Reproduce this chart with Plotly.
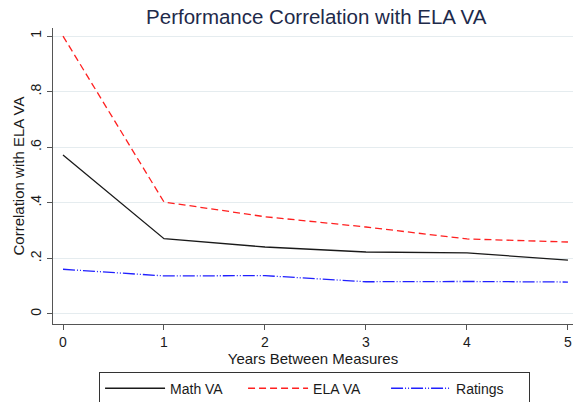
import plotly.graph_objects as go

years = [0, 1, 2, 3, 4, 5]
math_va = [0.572, 0.271, 0.241, 0.223, 0.220, 0.194]
ela_va = [1.0, 0.403, 0.350, 0.313, 0.270, 0.259]
ratings = [0.161, 0.137, 0.138, 0.116, 0.117, 0.115]
y_ticks = [0, 0.2, 0.4, 0.6, 0.8, 1.0]
y_ticktext = ["0", ".2", ".4", ".6", ".8", "1"]

font = "Liberation Sans, Arial, sans-serif"

fig = go.Figure()
fig.add_trace(go.Scatter(x=years, y=math_va, mode="lines", name="Math VA",
                         line=dict(color="#1a1a1a", width=1.3)))
fig.add_trace(go.Scatter(x=years, y=ela_va, mode="lines", name="ELA VA",
                         line=dict(color="#ff2020", width=1.3, dash="7px,4px")))
fig.add_trace(go.Scatter(x=years, y=ratings, mode="lines", name="Ratings",
                         line=dict(color="#2020ff", width=1.3,
                                   dash="12px,2px,1px,2px,1px,2px")))

fig.update_layout(
    width=576, height=402,
    margin=dict(l=53, r=3, t=28, b=78, autoexpand=False),
    paper_bgcolor="white", plot_bgcolor="white",
    font=dict(family=font, size=14, color="#1a1a1a"),
    title=dict(text="Performance Correlation with ELA VA", x=0.549, xanchor="center",
               y=0.975, yanchor="top",
               font=dict(family=font, size=20.5, color="#1e2a4a")),
    xaxis=dict(range=[-0.099, 5.05], tickvals=years, ticks="outside", ticklen=5,
               tickcolor="#555555", showline=True, linecolor="#555555", linewidth=1,
               showgrid=False, zeroline=False, automargin=False,
               title=dict(text="Years Between Measures", standoff=1,
                          font=dict(size=15)),
               tickfont=dict(size=14)),
    yaxis=dict(range=[-0.036, 1.029], tickvals=y_ticks, ticktext=y_ticktext,
               tickangle=-90, ticks="outside", ticklen=5, tickcolor="#555555",
               showline=True, linecolor="#555555", linewidth=1, automargin=False,
               showgrid=True, gridcolor="#e5ecef", gridwidth=1, zeroline=False,
               title=dict(text="Correlation with ELA VA", standoff=0,
                          font=dict(size=15)),
               tickfont=dict(size=14)),
    legend=dict(orientation="h", x=0.503, xanchor="center", y=-0.161, yanchor="top",
                bordercolor="#333333", borderwidth=1, bgcolor="white",
                font=dict(size=14), itemwidth=60, entrywidth=68,
                entrywidthmode="pixels", tracegroupgap=0),
    showlegend=True,
)

fig.write_html("out.html", config={"displayModeBar": False},
               post_script="document.body.style.margin='0';document.body.style.padding='0';")
